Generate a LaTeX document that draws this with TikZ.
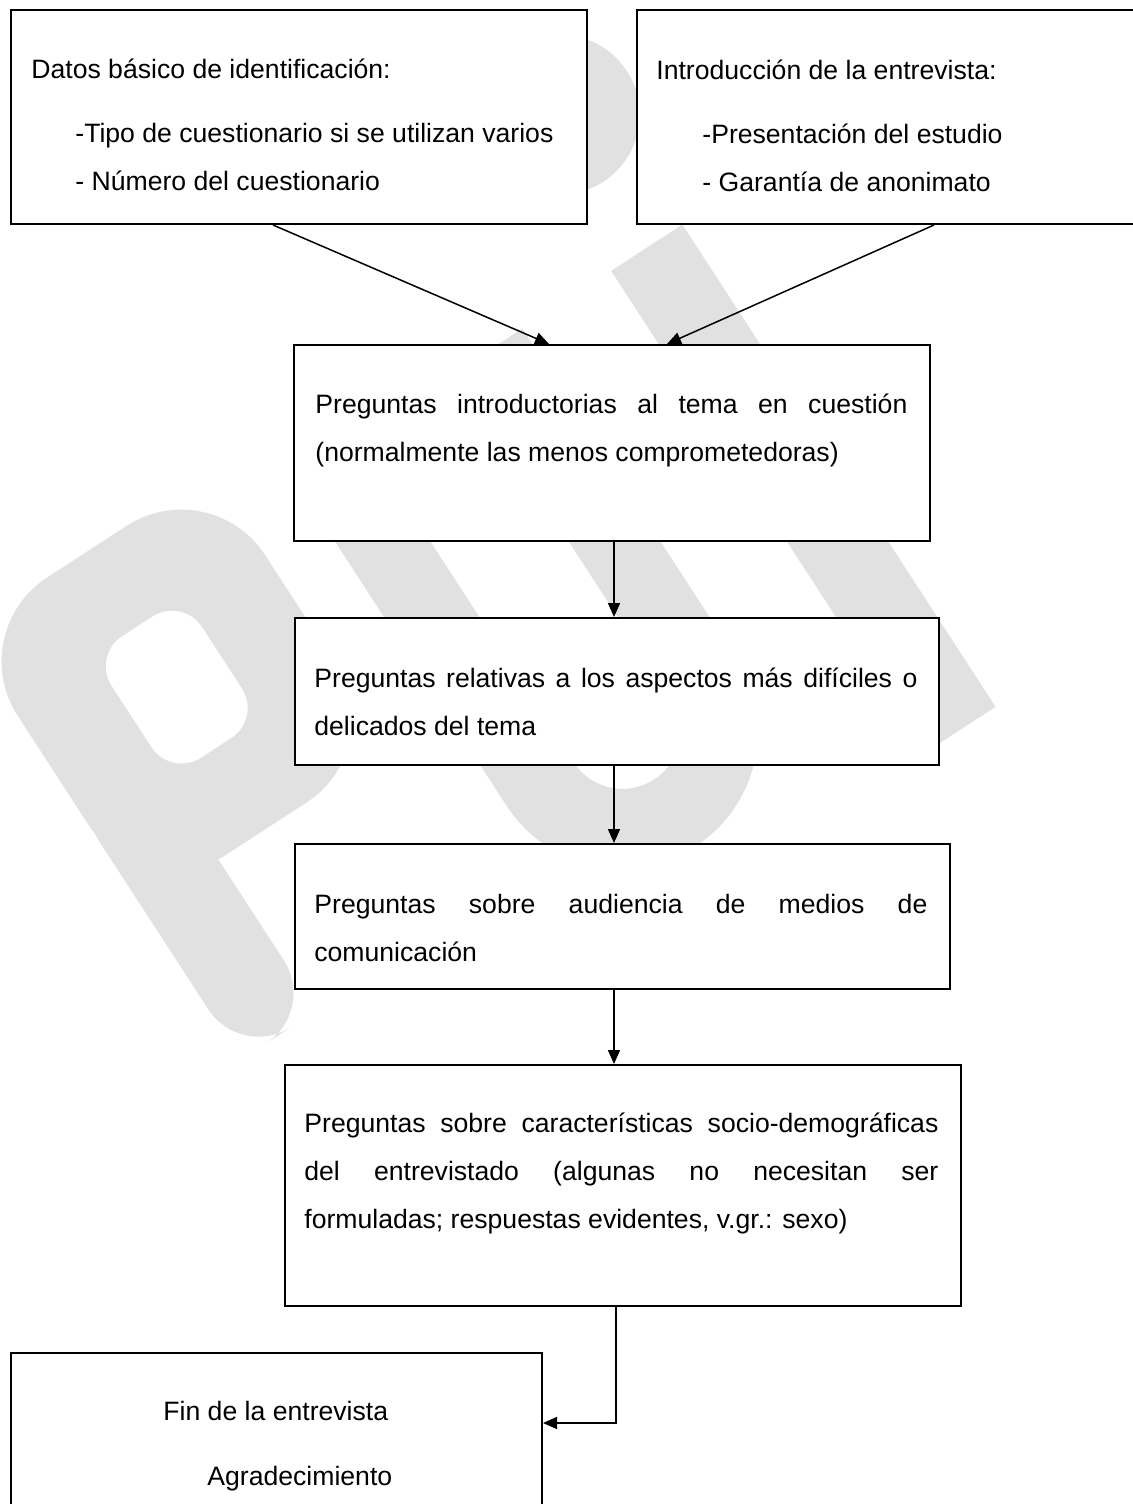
\documentclass[tikz,border=0pt]{standalone}
\usepackage{fontspec}
\setmainfont{Liberation Sans}
\usetikzlibrary{positioning,arrows.meta,calc}
\definecolor{wm}{HTML}{E1E1E1}
\tikzset{
  box/.style={draw=black, line width=1pt, fill=white, inner sep=0pt, anchor=north west},
  txt/.style={inner sep=0pt, anchor=north west, align=left},
  jtxt/.style={inner sep=0pt, anchor=north west, align=justify},
  arr/.style={-{Triangle[length=7pt,width=6pt]}, line width=0.75pt},
}

\begin{document}
\begin{tikzpicture}[x=0.5pt, y=-0.5pt, font=\fontsize{13.3pt}{24pt}\selectfont]
  \useasboundingbox (0,0) rectangle (1133,1504);
  \clip (0,0) rectangle (1133,1504);

  \begin{scope}[y=0.5pt, rotate=33]
    \fill[wm, rounded corners=30pt] (-375,-1020) rectangle (-285,-700);
    \fill[wm, even odd rule, rounded corners=50pt]
      (-375,-840) -- (-375,-510) -- (-80,-510) -- (-80,-840) -- cycle
      [rounded corners=18pt] (-280,-745) -- (-280,-600) -- (-172,-600) -- (-172,-745) -- cycle;
    \fill[wm] (-14,-560) -- (-14,-952) arc[start angle=180, end angle=360, radius=68.25pt]
      -- (259,-560) -- (182,-560) -- (182,-952) arc[start angle=0, end angle=-180, radius=29pt]
      -- (66,-560) -- cycle;
    \fill[wm] (365,-1135) rectangle (450,-560);
    \fill[wm] (407,-401) circle[radius=40pt];
  \end{scope}

  \node[box, minimum width=288pt, minimum height=107pt] (b1) at (10,9) {};
  \node[box, minimum width=252pt, minimum height=107pt] (b2) at (636,9) {};
  \node[box, minimum width=318pt, minimum height=98pt] (b3) at (293,344) {};
  \node[box, minimum width=322pt, minimum height=73.5pt] (b4) at (294,617) {};
  \node[box, minimum width=327.5pt, minimum height=72.5pt] (b5) at (294,843) {};
  \node[box, minimum width=338pt, minimum height=120.5pt] (b6) at (284,1064) {};
  \node[box, minimum width=265.5pt, minimum height=85pt] (b7) at (10,1352) {};

  \node[txt] (t1) at (31,44.4) {\strut Datos básico de identificación:\\[8pt]
    \hspace*{22pt}-Tipo de cuestionario si se utilizan varios\\
    \hspace*{22pt}- Número del cuestionario};
  \node[txt] (t2) at (656,45.4) {\strut Introducción de la entrevista:\\[8pt]
    \hspace*{23pt}-Presentación del estudio\\
    \hspace*{23pt}- Garantía de anonimato};
  \node[jtxt, text width=296pt] (t3) at (315,379.4)
    {\strut Preguntas introductorias al tema en cuestión\linebreak
    (normalmente las menos comprometedoras)};
  \node[jtxt, text width=301.5pt] (t4) at (314,653.4)
    {\strut Preguntas relativas a los aspectos más difíciles o\linebreak
    delicados del tema};
  \node[jtxt, text width=306.5pt] (t5) at (314,879.4)
    {\strut Preguntas sobre audiencia de medios de\linebreak
    comunicación};
  \node[jtxt, text width=317pt] (t6) at (304,1098.4)
    {\strut Preguntas sobre características socio-demográficas\linebreak
    del entrevistado (algunas no necesitan ser\linebreak
    formuladas; respuestas evidentes, v.gr.: sexo)};
  \node[txt] (t7) at (163,1386.4) {\strut Fin de la entrevista\\[8.5pt]
    \hspace*{22pt}Agradecimiento};

  \coordinate (spine) at (614,0);
  \coordinate (spine2) at (616,0);
  \draw[arr] ([xshift=-13pt]b1.south) -- ([xshift=-31.5pt]b3.north);
  \draw[arr] ([xshift=22.5pt]b2.south) -- ([xshift=27.5pt]b3.north);
  \foreach \i/\j in {b3/b4,b4/b5,b5/b6} \draw[arr] (\i.south -| spine) -- (\j.north -| spine);
  \draw[arr] (b6.south -| spine2) |- ([yshift=-35.5pt]b7.north east);
\end{tikzpicture}
\end{document}
